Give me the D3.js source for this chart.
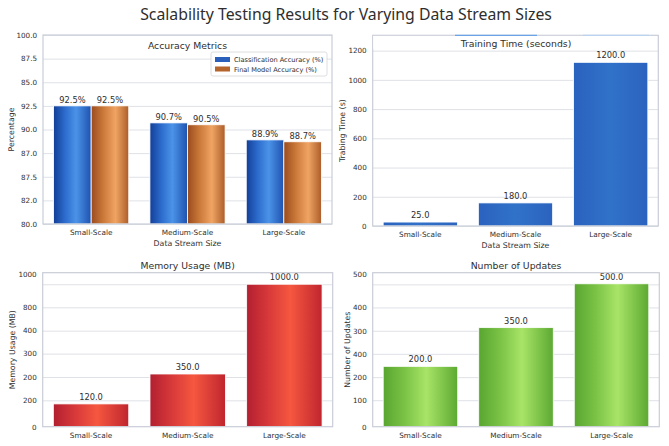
<!doctype html>
<html>
<head>
<meta charset="utf-8">
<script src="https://d3js.org/d3.v7.min.js"></script>
<style>
  body { margin: 0; background: #fff; }
  svg { display: block; }
  text { font-family: "DejaVu Sans", sans-serif; fill: #2e2e2e; }
</style>
</head>
<body>
<svg id="chart" width="669" height="446"></svg>
<script>
// ---- data ----
var categories = ["Small-Scale", "Medium-Scale", "Large-Scale"];

var classAccuracy = [92.5, 90.7, 88.9];
var finalAccuracy = [92.5, 90.5, 88.7];
var accTickValues = [80, 82.5, 85, 87.5, 90, 92.5, 95, 97.5, 100];
var accTickLabels = ["80.0", "82.0", "87.5", "87.0", "90.0", "92.5", "85.0", "87.5", "100.0"];

var trainTime = [27, 158, 1120];
var trainLabels = ["25.0", "180.0", "1200.0"];
var trainTickValues = [0, 200, 400, 600, 800, 1000, 1200];

var memUsage = [160, 370, 1000];
var memLabels = ["120.0", "350.0", "1000.0"];
var memGridValues = [185, 349, 513, 674, 838, 1000];
var memTickValues = [0, 185, 349, 513, 674, 838, 1072];
var memTickLabels = ["0", "200", "200", "300", "400", "800", "1000"];

var updates = [212, 348, 502];
var updateLabels = ["200.0", "350.0", "500.0"];
var updGridValues = [93, 174, 256, 337, 419, 500];
var updTickValues = [0, 93, 174, 256, 337, 419, 536];
var updTickLabels = ["0", "100", "200", "400", "300", "400", "500"];

var svg = d3.select("#chart");
var defs = svg.append("defs");

function grad(id, stops) {
  var g = defs.append("linearGradient").attr("id", id)
    .attr("x1", "0%").attr("x2", "100%").attr("y1", "0%").attr("y2", "0%");
  stops.forEach(function(s) {
    g.append("stop").attr("offset", s[0]).attr("stop-color", s[1]);
  });
}
grad("gBlue", [[0, "#123f98"], [0.3, "#2c6bcc"], [0.6, "#4b93e8"], [1, "#1e52b0"]]);
grad("gOrange", [[0, "#9a4b1e"], [0.3, "#c87637"], [0.65, "#f0a463"], [1, "#ac5d29"]]);
grad("gRed", [[0, "#b21f30"], [0.3, "#d93a3a"], [0.58, "#f5573f"], [1, "#c0252f"]]);
grad("gGreen", [[0, "#58a530"], [0.3, "#7cc447"], [0.58, "#a8e467"], [1, "#5ca932"]]);
grad("gTrain", [[0, "#2a62bf"], [0.5, "#3172c9"], [1, "#2b63bf"]]);

svg.append("text")
  .attr("x", 346).attr("y", 20)
  .attr("text-anchor", "middle")
  .style("font-family", "'Noto Sans', sans-serif")
  .style("font-size", "15.8px")
  .text("Scalability Testing Results for Varying Data Stream Sizes");

// draws frame, grid, y ticks and x category labels of one panel
function panel(p) {
  var g = svg.append("g");
  var x = d3.scaleBand().domain(categories).range([p.x0, p.x1])
    .paddingInner(0.22).paddingOuter(0.11);
  var y = d3.scaleLinear().domain(p.domain).range([p.y1, p.y0]);

  g.append("g").attr("transform", "translate(" + p.x0 + ",0)")
    .call(d3.axisLeft(y).tickValues(p.grid).tickSize(-(p.x1 - p.x0)).tickFormat(""))
    .call(function(a) {
      a.select(".domain").remove();
      a.selectAll("line").attr("stroke", "#dfe1e7").attr("stroke-width", 1);
    });

  g.append("g").attr("transform", "translate(" + p.x0 + ",0)")
    .call(d3.axisLeft(y).tickValues(p.ticks).tickSize(0).tickPadding(6)
      .tickFormat(function(d, i) { return p.tickLabels[i]; }))
    .call(function(a) {
      a.select(".domain").remove();
      a.selectAll("text").style("font-size", "7.2px").attr("fill", "#2e2e2e");
    });

  g.append("g").attr("transform", "translate(0," + p.y1 + ")")
    .call(d3.axisBottom(x).tickSize(0).tickPadding(p.xPad))
    .call(function(a) {
      a.select(".domain").remove();
      a.selectAll("text").style("font-size", "7.3px").attr("fill", "#2e2e2e");
    });

  g.append("text").attr("x", (p.x0 + p.x1) / 2).attr("y", p.titleY)
    .attr("text-anchor", "middle").style("font-size", "9.3px").text(p.title);

  g.append("text")
    .attr("transform", "translate(" + p.ylabX + "," + ((p.y0 + p.y1) / 2) + ") rotate(-90)")
    .attr("text-anchor", "middle").style("font-size", "7.8px").text(p.ylabel);

  if (p.xlabel) {
    g.append("text").attr("x", (p.x0 + p.x1) / 2).attr("y", p.y1 + 22)
      .attr("text-anchor", "middle").style("font-size", "7.8px").text(p.xlabel);
  }
  return { g: g, x: x, y: y };
}

function frame(p) {
  svg.append("rect").attr("x", p.x0).attr("y", p.y0)
    .attr("width", p.x1 - p.x0).attr("height", p.y1 - p.y0)
    .attr("fill", "none").attr("stroke", "#c9cdd7").attr("stroke-width", 1.2);
}

// ---- accuracy (grouped) ----
var pA = { x0: 43, x1: 332, y0: 35, y1: 224, domain: [80, 100],
  grid: accTickValues, ticks: accTickValues, tickLabels: accTickLabels,
  title: "Accuracy Metrics", titleY: 48.5, ylabel: "Percentage", ylabX: 14,
  xlabel: "Data Stream Size", xPad: 6 };
var a = panel(pA);
var sub = d3.scaleBand().domain([0, 1]).range([0, a.x.bandwidth()]).padding(0);
[[classAccuracy, "url(#gBlue)"], [finalAccuracy, "url(#gOrange)"]].forEach(function(s, k) {
  a.g.selectAll(null).data(s[0]).enter().append("rect")
    .attr("x", function(d, i) { return a.x(categories[i]) + sub(k); })
    .attr("y", function(d) { return a.y(d); })
    .attr("width", sub.bandwidth())
    .attr("height", function(d) { return a.y(80) - a.y(d); })
    .attr("fill", s[1]).attr("stroke", "#fff").attr("stroke-width", 0.8);
  a.g.selectAll(null).data(s[0]).enter().append("text")
    .attr("x", function(d, i) { return a.x(categories[i]) + sub(k) + sub.bandwidth() / 2; })
    .attr("y", function(d) { return a.y(d) - 3; })
    .attr("text-anchor", "middle").style("font-size", "8.3px")
    .text(function(d) { return d.toFixed(1) + "%"; });
});
frame(pA);

// legend
var lg = a.g.append("g").attr("transform", "translate(211,52)");
lg.append("rect").attr("width", 116).attr("height", 24).attr("rx", 2)
  .attr("fill", "#fff").attr("fill-opacity", 0.9).attr("stroke", "#d6d6d6").attr("stroke-width", 0.8);
[["Classification Accuracy (%)", "#2a5fbb"], ["Final Model Accuracy (%)", "#b5652c"]].forEach(function(e, i) {
  lg.append("rect").attr("x", 4).attr("y", 5 + i * 9.5).attr("width", 15).attr("height", 5).attr("fill", e[1]);
  lg.append("text").attr("x", 23).attr("y", 10 + i * 9.5).style("font-size", "6.6px").text(e[0]);
});

// ---- simple bar panels ----
function simple(p, values, labels, fill, labOff) {
  var s = panel(p);
  s.g.selectAll(null).data(values).enter().append("rect")
    .attr("x", function(d, i) { return s.x(categories[i]); })
    .attr("y", function(d) { return s.y(d); })
    .attr("width", s.x.bandwidth())
    .attr("height", function(d) { return s.y(0) - s.y(d); })
    .attr("fill", fill).attr("stroke", "#fff").attr("stroke-width", 0.8);
  s.g.selectAll(null).data(values).enter().append("text")
    .attr("x", function(d, i) { return s.x(categories[i]) + s.x.bandwidth() / 2; })
    .attr("y", function(d) { return s.y(d) - labOff; })
    .attr("text-anchor", "middle").style("font-size", "8.3px")
    .text(function(d, i) { return labels[i]; });
  return s;
}

var pT = { x0: 372.7, x1: 658.3, y0: 35.3, y1: 226, domain: [0, 1305],
  grid: trainTickValues, ticks: trainTickValues, tickLabels: trainTickValues.map(String),
  title: "", titleY: 0, ylabel: "Trabing Time (s)", ylabX: 345,
  xlabel: "Data Stream Size", xPad: 6 };
var t = simple(pT, trainTime, trainLabels, "url(#gTrain)", 4);
frame(pT);
// title strip covering top of the frame
svg.append("rect").attr("x", pT.x0 + 0.6).attr("y", pT.y0 + 0.6)
  .attr("width", 277).attr("height", 13).attr("fill", "#fff");
svg.append("line").attr("x1", 455).attr("x2", 537).attr("y1", pT.y0).attr("y2", pT.y0)
  .attr("stroke", "#6aa3e6").attr("stroke-width", 1.2);
svg.append("line").attr("x1", 583).attr("x2", 649).attr("y1", pT.y0).attr("y2", pT.y0)
  .attr("stroke", "#b9d3f1").attr("stroke-width", 1.2);
svg.append("text").attr("x", 516).attr("y", 46.5).attr("text-anchor", "middle")
  .style("font-size", "9.3px").text("Training Time (seconds)");

var pM = { x0: 42.7, x1: 332.7, y0: 272.7, y1: 426.7, domain: [0, 1081],
  grid: memGridValues, ticks: memTickValues, tickLabels: memTickLabels,
  title: "Memory Usage (MB)", titleY: 268.5, ylabel: "Memory Usage (MB)", ylabX: 15,
  xlabel: null, xPad: 6 };
simple(pM, memUsage, memLabels, "url(#gRed)", 4);
frame(pM);

var pU = { x0: 372.7, x1: 659.3, y0: 272.7, y1: 426.7, domain: [0, 541],
  grid: updGridValues, ticks: updTickValues, tickLabels: updTickLabels,
  title: "Number of Updates", titleY: 268.5, ylabel: "Number of Updates", ylabX: 350,
  xlabel: null, xPad: 6 };
simple(pU, updates, updateLabels, "url(#gGreen)", 4);
frame(pU);
</script>
</body>
</html>
